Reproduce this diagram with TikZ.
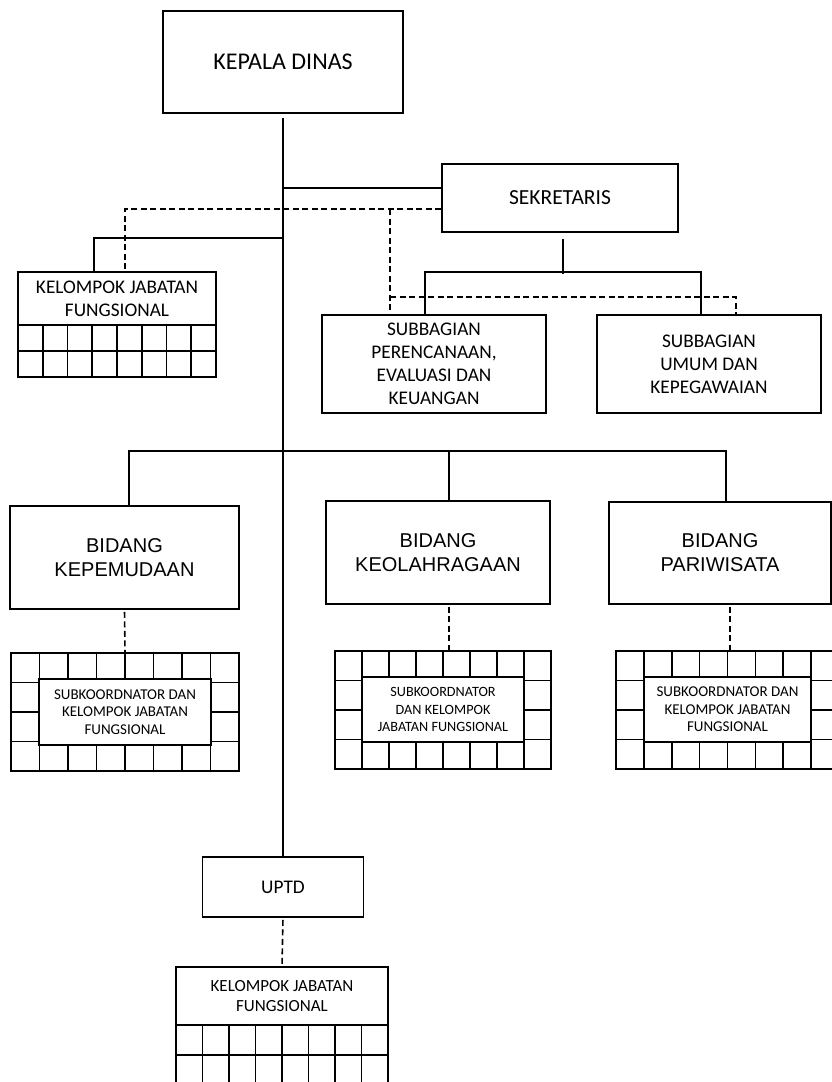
\documentclass[tikz,border=0pt]{standalone}
\usepackage{fontspec}
\setmainfont{Carlito}
\newfontfamily\arialf{Liberation Sans}
\begin{document}
\begin{tikzpicture}[x=1pt,y=-1pt,
  ln/.style={line width=1.6pt},
  dsh/.style={line width=1.6pt, dash pattern=on 6pt off 3.5pt},
  box/.style={draw, line width=1.6pt, inner sep=0pt, align=center, fill=white},
  fkd/.style={font=\fontsize{24}{28}\selectfont},
  fsek/.style={font=\fontsize{21.5}{25}\selectfont},
  f19/.style={font=\fontsize{19.3}{23}\selectfont},
  f17/.style={font=\fontsize{17}{20}\selectfont},
  f15/.style={font=\fontsize{15}{17.6}\selectfont},
  f14/.style={font=\fontsize{14.2}{17.6}\selectfont},
  fa/.style={font=\arialf\fontsize{20}{24}\selectfont},
]
\useasboundingbox (0,0) rectangle (832,1082);
\clip (0,0) rectangle (832,1082);

% top nodes
\node[box, fkd, minimum width=240, minimum height=102] (kd) at (283,62) {KEPALA DINAS};
\node[box, fsek, minimum width=236, minimum height=68] (sek) at (560,198) {SEKRETARIS};

% left kelompok jabatan fungsional
\node[box, f19, minimum width=198, minimum height=53] (kjf1) at (117,298.5) {KELOMPOK JABATAN\\FUNGSIONAL};
\node[box, minimum width=198, minimum height=52] (kjf1g) at (117,351) {};
\foreach \i in {1,...,7} \draw[ln] (18+24.75*\i,325) -- (18+24.75*\i,377);
\draw[ln] (18,351) -- (216,351);

% subbagian
\node[box, f19, minimum width=224, minimum height=98] (spek) at (434,364) {SUBBAGIAN\\PERENCANAAN,\\EVALUASI DAN\\KEUANGAN};
\node[box, f19, minimum width=224, minimum height=98] (sukp) at (709,364) {SUBBAGIAN\\UMUM DAN\\KEPEGAWAIAN};

% bidang
\node[box, fa, minimum width=229, minimum height=103] (bk) at (124.5,557.5) {BIDANG\\KEPEMUDAAN};
\node[box, fa, minimum width=224, minimum height=103] (bko) at (438,552.5) {BIDANG\\KEOLAHRAGAAN};
\node[box, fa, minimum width=222, minimum height=102] (bp) at (720,553) {BIDANG\\PARIWISATA};

% grids under bidang
\node[box, minimum width=228, minimum height=118] (g1) at (125,712) {};
\foreach \i in {1,...,7} \draw[ln] (11+28.5*\i,653) -- (11+28.5*\i,771);
\foreach \y in {682.5,712,741.5} \draw[ln] (11,\y) -- (239,\y);
\node[box, f15, minimum width=172, minimum height=66] (g1l) at (125,712) {SUBKOORDNATOR DAN\\KELOMPOK JABATAN\\FUNGSIONAL};

\node[box, minimum width=216, minimum height=118] (g2) at (443,710) {};
\foreach \i in {1,...,7} \draw[ln] (335+27*\i,651) -- (335+27*\i,769);
\foreach \y in {680.5,710,739.5} \draw[ln] (335,\y) -- (551,\y);
\node[box, f14, minimum width=162, minimum height=65] (g2l) at (443,709.5) {SUBKOORDNATOR\\DAN KELOMPOK\\JABATAN FUNGSIONAL};

\node[box, minimum width=223, minimum height=118] (g3) at (727.5,710) {};
\foreach \i in {1,...,7} \draw[ln] (616+27.875*\i,651) -- (616+27.875*\i,769);
\foreach \y in {680.5,710,739.5} \draw[ln] (616,\y) -- (839,\y);
\node[box, f15, minimum width=167, minimum height=65] (g3l) at (727.5,709.5) {SUBKOORDNATOR DAN\\KELOMPOK JABATAN\\FUNGSIONAL};

% UPTD
\node[box, f19, minimum width=161, minimum height=60] (upt) at (283,887) {UPTD};
\node[box, f17, minimum width=212, minimum height=58] (kjf2) at (282,996) {KELOMPOK JABATAN\\FUNGSIONAL};
\node[box, minimum width=212, minimum height=60] (kjf2g) at (282,1055) {};
\foreach \i in {1,...,7} \draw[ln] (176+26.5*\i,1025) -- (176+26.5*\i,1085);
\draw[ln] (176,1055) -- (388,1055);

% connectors
\draw[ln, shorten <=4pt] (kd.south) -- (upt.north);
\coordinate (js) at (283,188);
\draw[ln] (js) -- (js -| sek.west);
\coordinate (jk) at (283,238);
\draw[ln] (jk) -| ([xshift=-23pt]kjf1.north);
\draw[dsh] ([yshift=-11pt]sek.west) -| ([xshift=8pt]kjf1.north);
\coordinate (dA) at (390,209);
\draw[dsh] (dA) -- (dA |- spek.north);
\coordinate (dB) at (390,297);
\draw[dsh] (dB) -| ([xshift=27pt]sukp.north);
\draw[ln, shorten <=6pt] ([xshift=3pt]sek.south) -- ++(0,41);
\draw[ln] ([xshift=-9pt]spek.north) -- ++(0,-42) -| ([xshift=-8pt]sukp.north);

\coordinate (jb) at (283,451);
\draw[ln] ([xshift=4.5pt]bk.north) |- ([xshift=6pt]bp.north |- jb) -- ([xshift=6pt]bp.north);
\draw[ln] ([xshift=11pt]bko.north) -- ([xshift=11pt]bko.north |- jb);

\draw[dsh, shorten <=2pt] (bk.south) -- (g1.north);
\draw[dsh, shorten <=2pt] ([xshift=11pt]bko.south) -- ([xshift=11pt]bko.south |- g2.north);
\draw[dsh, shorten <=2pt] ([xshift=10pt]bp.south) -- ([xshift=10pt]bp.south |- g3.north);
\draw[dsh, shorten <=2pt] (upt.south) -- (kjf2.north);
\end{tikzpicture}
\end{document}
